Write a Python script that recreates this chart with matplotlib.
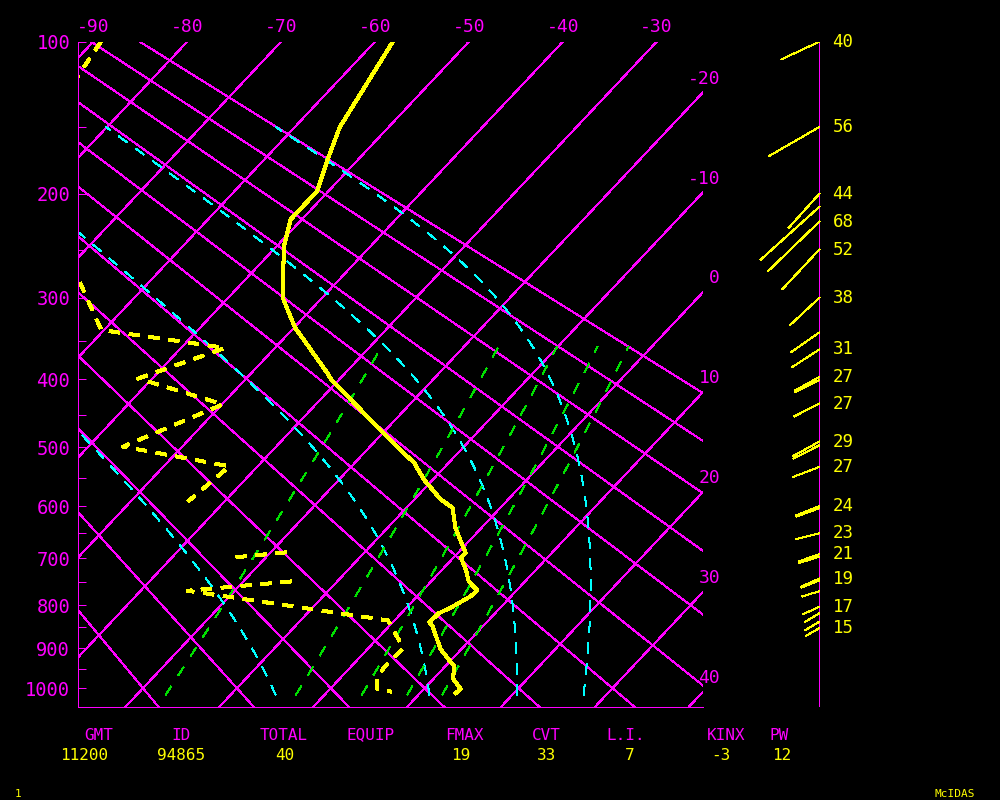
import numpy as np
import matplotlib
matplotlib.use("Agg")
import matplotlib.pyplot as plt

plt.rcParams['font.family'] = ['DejaVu Sans Mono']
plt.rcParams['lines.scale_dashes'] = False
plt.rcParams['lines.antialiased'] = False

# ---------------- data ----------------
temp_p = [1013, 1002, 976, 943, 930, 902, 847, 838, 818, 803, 780, 767, 748,
          723, 699, 689, 663, 640, 603, 588, 553, 525, 504, 473, 423, 400,
          394, 343, 335, 310, 299, 247, 222, 198, 170, 150, 100]
temp_c = [13.8, 13.9, 12.1, 10.9, 9.9, 7.8, 4.6, 3.9, 4.0, 4.8, 5.7, 5.8, 4.0,
          2.5, 0.8, 0.8, -1.1, -2.8, -5.1, -7.2, -11.0, -13.7, -16.5, -20.6,
          -27.5, -30.9, -31.6, -38.6, -39.8, -42.9, -44.3, -49.2, -51.2, -51.2,
          -53.5, -55.2, -58.1]

nan = float('nan')
dewp_p = [100, 139, 229, 337, 359, 399, 435, 499, 531, 592, nan,
          698, 688, nan,
          748, 768, 834, 899, 946, 975, 1002, 1009]
dewp_c = [-89.2, -87.2, -75.5, -60.3, -45.3, -51.5, -39.9, -46.3, -33.0, -33.9, nan,
          -23.2, -18.3, nan,
          -14.9, -25.0, -0.7, 3.7, 3.6, 3.9, 5.0, 6.8]

wind_p = [100, 150, 200, 211, 224, 250, 300, 340, 361, 397, 401, 434, 491, 497,
          532, 600, 604, 651, 692, 697, 742, 746, 769, 803, 818, 837, 852]
wind_dir = [245, 240, 222, 228, 226, 223, 227, 235, 237, 241, 243, 243, 241, 243,
            249, 248, 250, 256, 251, 253, 246, 248, 253, 245, 239, 239, 240]
wind_spd = [40, 56, 44, 76, 68, 52, 38, 33, 31, 27, 26, 27, 29, 28,
            27, 24, 23, 23, 21, 20, 19, 18, 17, 17, 16, 16, 15]
wind_lab = [1, 1, 1, 0, 1, 1, 1, 0, 1, 1, 0, 1, 1, 0,
            1, 1, 0, 1, 1, 0, 1, 0, 0, 1, 0, 0, 1]

isotherms = list(range(-90, 41, 10))
top_labels = list(range(-90, -29, 10))
right_labels = list(range(-20, 41, 10))
dry_adiabats = list(range(-20, 91, 10))          # potential temperature, deg C
moist_adiabats = [-6.2, 10.4, 19.8, 27.0]        # temperature at 1000 hPa, deg C
mixing_ratios = [1, 3, 5, 7, 9]                  # g/kg
pres_labels = list(range(100, 1001, 100))
pres_minor = list(range(150, 1000, 100))

hdr_names = ['GMT', 'ID', 'TOTAL', 'EQUIP', 'FMAX', 'CVT', 'L.I.', 'KINX', 'PW']
hdr_values = ['11200', '94865', '40', '', '19', '33', '7', '-3', '12']

# ---------------- layout ----------------
W, H = 1000, 800
L, R, T, B = 77.7, 702.7, 41.7, 707.0
P_TOP, P_BOT = 100.0, 1050.0
KAPPA = 0.2857
PX_PER_C = 9.39
ISO_RISE = 1.064
X_LEFT = -91.66
LW = 0.72

MAG = '#ff00ff'
YEL = '#ffff00'
CYN = '#00ffff'
GRN = '#00e000'


def s(p):
    return np.asarray(p, dtype=float) ** KAPPA


S_TOP, S_BOT = s(P_TOP), s(P_BOT)
PX_PER_S = (B - T) / (S_BOT - S_TOP)
SKEW = PX_PER_S / (ISO_RISE * PX_PER_C)
X_RIGHT = X_LEFT + (R - L) / PX_PER_C


def skx(tc, p):
    return np.asarray(tc, dtype=float) - SKEW * (s(p) - S_TOP)


fig = plt.figure(figsize=(W / 100, H / 100), dpi=100, facecolor='black')
ax = fig.add_axes([L / W, 1 - B / H, (R - L) / W, (B - T) / H])
ax.set_facecolor('black')
ax.set_xlim(X_LEFT, X_RIGHT)
ax.set_ylim(S_BOT, S_TOP)

# isotherms
pp = np.array([P_TOP, P_BOT])
for t in isotherms:
    ax.plot(skx([t, t], pp), s(pp), color=MAG, lw=LW)

# dry adiabats
pg = np.linspace(P_TOP, P_BOT, 60)
for th in dry_adiabats:
    tk = (th + 273.15) * (pg / 1000.0) ** KAPPA
    ax.plot(skx(tk - 273.15, pg), s(pg), color=MAG, lw=LW)

# moist adiabats: lines of constant equivalent potential temperature
CP, LV, EPS = 1004.0, 2.5e6, 0.622


def sat_mixr(tk, p):
    tc = tk - 273.15
    e = 6.112 * np.exp(17.67 * tc / (tc + 243.5))
    return EPS * e / (p - e)


def theta_e(tk, p):
    return tk * (1000.0 / p) ** KAPPA * np.exp(LV * sat_mixr(tk, p) / (CP * tk))


pm = np.linspace(1018, 150, 300)
for t0 in moist_adiabats:
    target = theta_e(t0 + 273.15, 1000.0)
    lo = np.full_like(pm, 150.0)
    hi = np.full_like(pm, 320.0)
    for _ in range(60):
        mid = 0.5 * (lo + hi)
        big = theta_e(mid, pm) > target
        hi = np.where(big, mid, hi)
        lo = np.where(big, lo, mid)
    tm = 0.5 * (lo + hi) - 273.15
    ax.plot(skx(tm, pm), s(pm), color=CYN, lw=LW, linestyle=(0, (7.3, 7.3)))

# mixing ratio lines
pw = np.linspace(1018, 357, 80)
for w in mixing_ratios:
    e = (w / 1000.0) * pw / (EPS + w / 1000.0)
    lg = np.log(e / 6.112)
    td = 243.5 * lg / (17.67 - lg)
    ax.plot(skx(td, pw), s(pw), color=GRN, lw=LW, linestyle=(0, (7.5, 9.0)))

# sounding
ax.plot(skx(temp_c, temp_p), s(temp_p), color=YEL, lw=2.2)
dp_arr = np.array(dewp_p, dtype=float)
dc_arr = np.array(dewp_c, dtype=float)
ax.plot(skx(dc_arr, dp_arr), s(dp_arr), color=YEL, lw=2.2,
        linestyle=(0, (7.9, 6.5)))

# axes frame and ticks
for side in ['top', 'right']:
    ax.spines[side].set_visible(False)
for side in ['left', 'bottom']:
    ax.spines[side].set_color(MAG)
    ax.spines[side].set_linewidth(LW)
ax.set_xticks([])
ax.set_yticks(s(pres_labels))
ax.set_yticklabels([str(v) for v in pres_labels])
ax.set_yticks(s(pres_minor), minor=True)
ax.tick_params(axis='y', which='both', direction='in', color=MAG, width=LW,
               length=6, labelcolor=MAG, labelsize=13.5, pad=5.5)

# temperature labels (top and right)
for t in top_labels:
    ax.annotate(str(t), xy=(t, S_TOP), xytext=(0, 14.5),
                textcoords='offset pixels', ha='center', va='center',
                color=MAG, fontsize=13, annotation_clip=False)
for t in right_labels:
    sy = S_TOP + (t - X_RIGHT) / SKEW
    ax.annotate(str(t), xy=(X_RIGHT, sy), xytext=(17.5, 14),
                textcoords='offset pixels', ha='right', va='center',
                color=MAG, fontsize=13, annotation_clip=False)

# wind panel
axw = fig.add_axes([740 / W, 1 - B / H, 160 / W, (B - T) / H])
axw.set_xlim(740, 900)
axw.set_ylim(S_BOT, S_TOP)
axw.axis('off')
XW = 819.3
axw.plot([XW, XW], [S_TOP, S_BOT], color=MAG, lw=LW)
for p, d, v, lab in zip(wind_p, wind_dir, wind_spd, wind_lab):
    ln = v * 1.04
    rad = np.deg2rad(d)
    x1 = XW + ln * np.sin(rad)
    y0 = s(p)
    y1 = y0 - ln * np.cos(rad) / PX_PER_S
    axw.plot([XW, x1], [y0, y1], color=YEL, lw=LW)
    if lab:
        axw.text(832.5, y0, str(v), color=YEL, fontsize=12.5, ha='left',
                 va='center')

# bottom information block
hdr_x = [99, 181, 284, 371, 464, 546, 626, 726, 779]
val_x = [84, 181, 285, 371, 461, 546, 630, 721, 782]
for name, xv in zip(hdr_names, hdr_x):
    fig.text(xv / W, 1 - 735 / H, name, color=MAG, fontsize=11.5,
             ha='center', va='center')
for val, xv in zip(hdr_values, val_x):
    fig.text(xv / W, 1 - 755 / H, val, color=YEL, fontsize=11.5,
             ha='center', va='center')
fig.text(18.5 / W, 1 - 794 / H, '1', color=YEL, fontsize=8, ha='center', va='center')
fig.text(955 / W, 1 - 794 / H, 'McIDAS', color=YEL, fontsize=8, ha='center',
         va='center')

fig.savefig('out.png', dpi=100, facecolor='black')
